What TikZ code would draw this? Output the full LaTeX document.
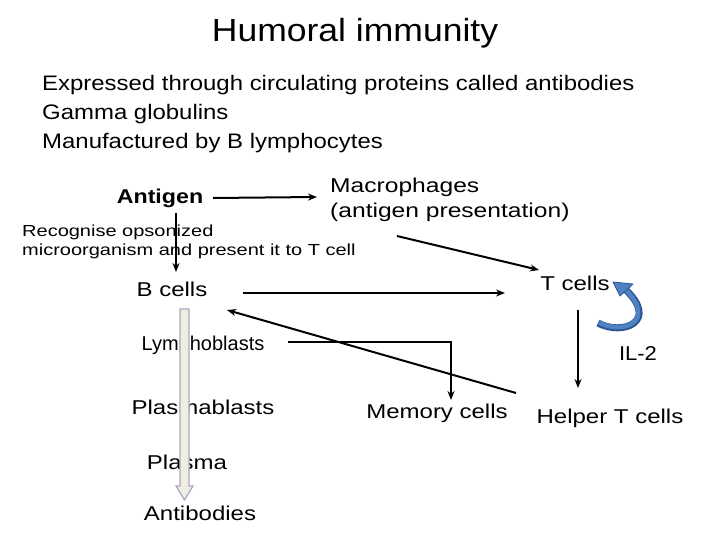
\documentclass[tikz,border=0pt]{standalone}
\usepackage{fontspec}
\setmainfont{Liberation Sans}
\usetikzlibrary{arrows.meta}
\definecolor{bdark}{RGB}{45,85,145}
\definecolor{blite}{RGB}{80,130,195}
\begin{document}
\begin{tikzpicture}[x=1pt,y=-1pt,
 t/.style={inner sep=0pt,font=\addfontfeature{FakeStretch=1.2}\fontsize{20}{22}\selectfont},
 a/.style={-{Stealth[length=9pt,width=7pt]},line width=2pt}]
\useasboundingbox (0,0) rectangle (720,540);
\node[inner sep=0pt,font=\addfontfeature{FakeStretch=1.11}\fontsize{32}{34}\selectfont] (title) at (355,33) {Humoral immunity};
\node[inner sep=0pt,anchor=west,align=left,font=\addfontfeature{FakeStretch=1.14}\fontsize{21}{29}\selectfont] (bul) at (42,114) {Expressed through circulating proteins called antibodies\\Gamma globulins\\Manufactured by B lymphocytes};
\node[inner sep=0pt,font=\bfseries\addfontfeature{FakeStretch=1.16}\fontsize{20}{22}\selectfont] (ag) at (160,198) {Antigen};
\node[inner sep=0pt,anchor=west,align=left,font=\addfontfeature{FakeStretch=1.23}\fontsize{20}{25}\selectfont] (mac) at (330,200) {Macrophages\\(antigen presentation)};
\node[inner sep=0pt,anchor=west,align=left,font=\addfontfeature{FakeStretch=1.25}\fontsize{16}{19}\selectfont] (rec) at (22,242) {Recognise opsonized\\microorganism and present it to T cell};
\node[t] (b) at (172,289) {B cells};
\node[t] (tc) at (575,283) {T cells};
\node[inner sep=0pt,font=\fontsize{20}{22}\selectfont] (ly) at (203,345) {Lymphoblasts};
\node[t] (pb) at (203,407) {Plasmablasts};
\node[t] (pl) at (187,462) {Plasma};
\node[t] (ab) at (200,513) {Antibodies};
\node[t] (mem) at (437,413) {Memory cells};
\node[t] (hel) at (610,418) {Helper T cells};
\node[inner sep=0pt,font=\addfontfeature{FakeStretch=1.1}\fontsize{20}{22}\selectfont] (il) at (638,354) {IL-2};
\coordinate (a1) at (213,198); \coordinate (a2) at (317,197);
\draw[a] (a1) -- (a2);
\coordinate (d1) at (176,213); \coordinate (d2) at (176,272);
\draw[a] (d1) -- (d2);
\coordinate (m1) at (397,236); \coordinate (m2) at (539,270);
\draw[a] (m1) -- (m2);
\coordinate (bt1) at (243,293); \coordinate (bt2) at (505,293);
\draw[a] (bt1) -- (bt2);
\coordinate (h1) at (516,393); \coordinate (h2) at (227,310);
\draw[a] (h1) -- (h2);
\coordinate (l1) at (288,342); \coordinate (l2) at (451,400);
\draw[a] (l1) -| (l2);
\coordinate (t1) at (578,310); \coordinate (t2) at (578,388);
\draw[a] (t1) -- (t2);
% wide arrow
\draw[draw={rgb,255:red,175;green,165;blue,195},fill={rgb,255:red,238;green,238;blue,225},line width=1.2pt]
 (180,309) -- (189,309) -- (189,486) -- (193,486) -- (184.5,500) -- (176,486) -- (180,486) -- cycle;
% blue curved arrow
\coordinate (c1) at (598,323); \coordinate (c2) at (625,289);
\draw[line width=7pt,bdark] (c1) .. controls (622,336) and (660,322) .. (c2);
\draw[line width=4.5pt,blite] (599,322.5) .. controls (622,335) and (658,322) .. (c2);
\draw[draw=bdark,fill=blite,line width=0.8pt,line join=round]
 (613,282) -- (633,284) -- (620,296) -- cycle;
\end{tikzpicture}
\end{document}
